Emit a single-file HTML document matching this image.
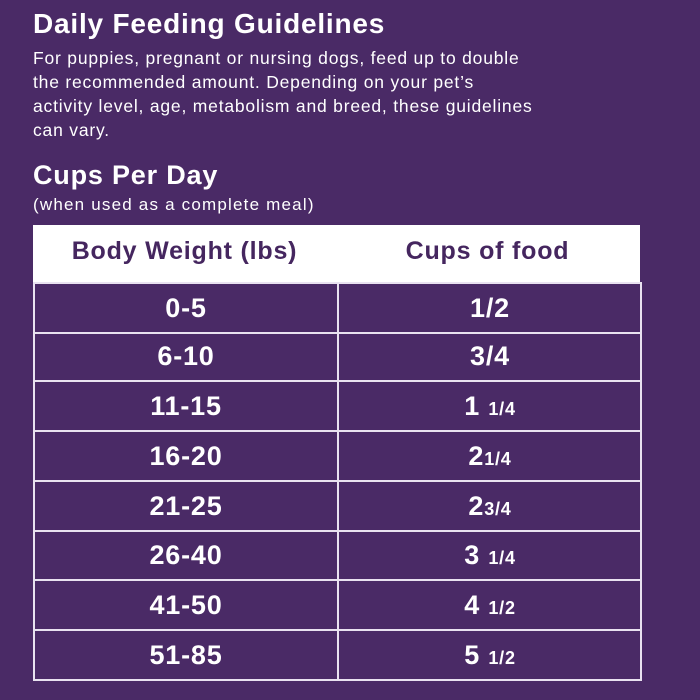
<!DOCTYPE html>
<html><head><style>
body{margin:0;width:700px;height:700px;background:#4a2a66;overflow:hidden;font-family:"Liberation Sans",sans-serif;color:#fff;position:relative}
h1{position:absolute;left:33px;top:8px;margin:0;font-size:28px;font-weight:bold;letter-spacing:0.8px}
.p{position:absolute;left:33px;top:46px;font-size:17.5px;line-height:24px;letter-spacing:0.8px}
h2{position:absolute;left:33px;top:160px;margin:0;font-size:27px;font-weight:bold;letter-spacing:0.8px}
.s{position:absolute;left:33px;top:195px;font-size:17px;letter-spacing:1.2px}
.hdr{position:absolute;left:33px;top:225px;width:607px;height:57px;background:#fff}
.hdr div{position:absolute;top:12px;font-size:25px;font-weight:bold;color:#45265f;text-align:center;width:303px;letter-spacing:0.8px}
.row{position:absolute;left:33px;width:605px;height:48px;border:2px solid #e9e2f0;border-top:0}
.row div{position:absolute;top:0;height:48px;line-height:48px;text-align:center;font-size:27px;font-weight:bold;width:302px;letter-spacing:0.8px}
.row .c2{left:302px;border-left:2px solid #e9e2f0}
small{font-size:18px}
</style></head><body>
<h1>Daily Feeding Guidelines</h1>
<div class="p">For puppies, pregnant or nursing dogs, feed up to double<br>the recommended amount. Depending on your pet’s<br>activity level, age, metabolism and breed, these guidelines<br>can vary.</div>
<h2>Cups Per Day</h2>
<div class="s">(when used as a complete meal)</div>
<div class="hdr"><div style="left:0">Body Weight (lbs)</div><div style="left:303px">Cups of food</div></div>
<div class="row" style="top:282px;border-top:2px solid #e9e2f0;height:48px"><div>0-5</div><div class="c2">1/2</div></div>
<div class="row" style="top:332px"><div>6-10</div><div class="c2">3/4</div></div>
<div class="row" style="top:382px"><div>11-15</div><div class="c2">1 <small>1/4</small></div></div>
<div class="row" style="top:432px"><div>16-20</div><div class="c2">2<small>1/4</small></div></div>
<div class="row" style="top:482px"><div>21-25</div><div class="c2">2<small>3/4</small></div></div>
<div class="row" style="top:531px"><div>26-40</div><div class="c2">3 <small>1/4</small></div></div>
<div class="row" style="top:581px"><div>41-50</div><div class="c2">4 <small>1/2</small></div></div>
<div class="row" style="top:631px"><div>51-85</div><div class="c2">5 <small>1/2</small></div></div>
</body></html>
